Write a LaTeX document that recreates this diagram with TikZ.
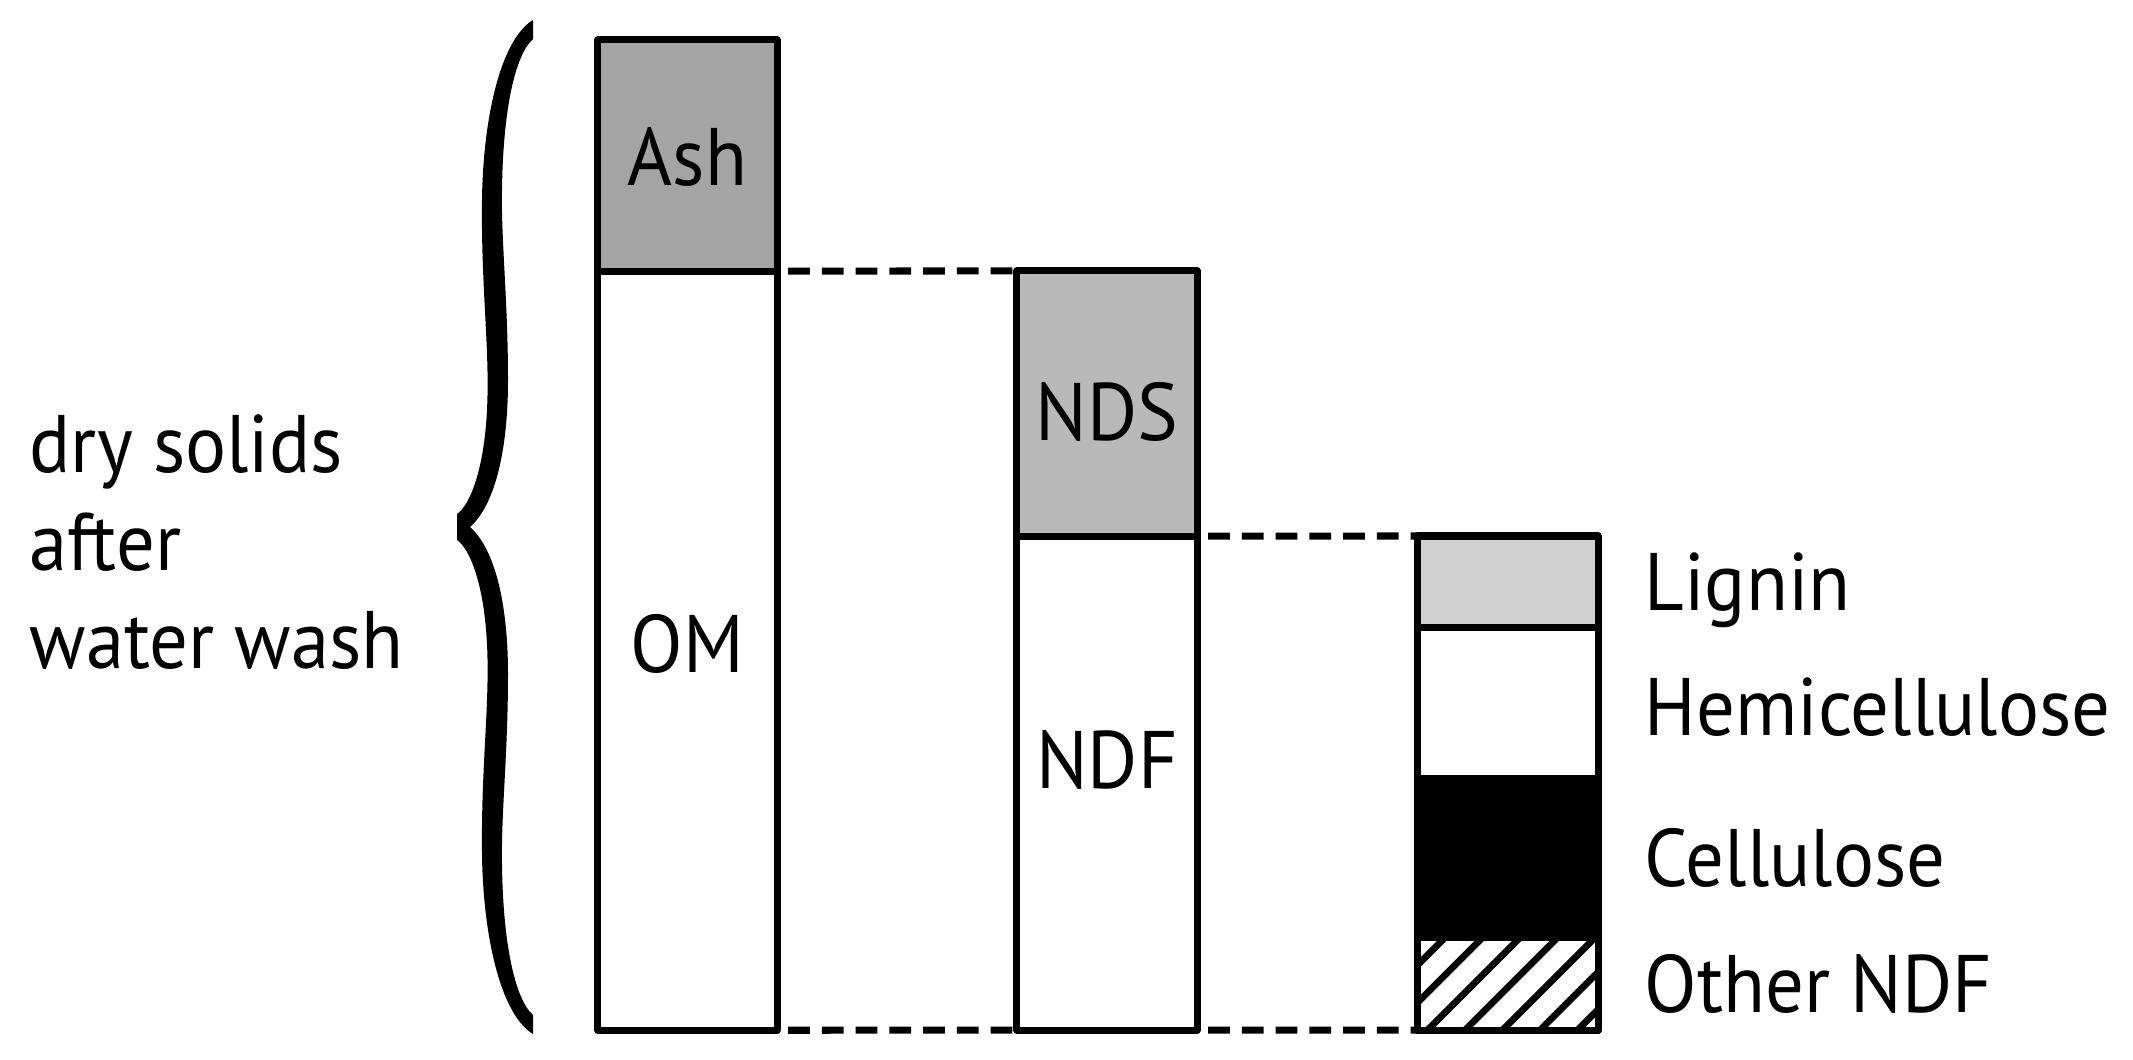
\documentclass[tikz,border=0pt]{standalone}
\usepackage{fontspec}
\setmainfont[FakeStretch=0.94]{PT Sans}
\definecolor{ashgray}{HTML}{A4A4A4}
\definecolor{ndsgray}{HTML}{B9B9B9}
\definecolor{liggray}{HTML}{D1D1D1}
\begin{document}
\begin{tikzpicture}[x=0.01cm,y=-0.01cm,
  seg/.style={draw=black, line width=2pt, line join=round, inner sep=0pt, outer sep=0pt, minimum width=1.8cm},
  lbl/.style={inner sep=0pt, font=\fontsize{23.2pt}{28pt}\selectfont},
  conn/.style={line width=2pt, dash pattern=on 6.2pt off 3.4pt, shorten <=0.11cm}]
\useasboundingbox (0,0) rectangle (2133,1059);

% bar 1
\node[seg, fill=white, minimum width=1.79cm, minimum height=7.59cm] (om) at (687.5,650.5) {};
\node[seg, fill=ashgray, minimum width=1.79cm, minimum height=2.31cm] (ash) at (687.5,155.5) {};
% bar 2
\node[seg, fill=white, minimum height=4.94cm] (ndf) at (1107,783) {};
\node[seg, fill=ndsgray, minimum height=2.65cm] (nds) at (1107,403.5) {};
% bar 3
\node[seg, fill=liggray, minimum height=0.92cm] (lig) at (1508,582) {};
\node[seg, fill=white, minimum height=1.51cm] (hem) at (1508,703.5) {};
\node[seg, fill=black, minimum height=1.58cm] (cel) at (1508,858) {};
\node[seg, fill=white, minimum height=0.93cm] (oth) at (1508,983.5) {};
\begin{scope}
  \clip (oth.south west) rectangle (oth.north east);
  \foreach \c in {1267.5,1305,...,1610}
    \draw[line width=1.9pt] (\c,1040) -- (\c+120,920);
\end{scope}
\node[seg, minimum height=0.93cm] (othb) at (1508,983.5) {};

% labels in bars
\node[lbl, anchor=base] (ashL) at (687.5,185) {Ash};
\node[lbl, anchor=base] (omL) at (687.5,672) {OM};
\node[lbl, anchor=base] (ndsL) at (1107,440) {NDS};
\node[lbl, anchor=base] (ndfL) at (1107,788) {NDF};

% legend labels
\node[lbl, anchor=base west] (ligL) at (1644,610) {Lignin};
\node[lbl, anchor=base west] (hemL) at (1644,735) {Hemicellulose};
\node[lbl, anchor=base west] (celL) at (1644,886) {Cellulose};
\node[lbl, anchor=base west] (othL) at (1644,1012) {Other NDF};

% left text
\node[lbl, anchor=base west] (t1) at (29,472) {dry solids};
\node[lbl, anchor=base west] (t2) at (29,570) {after};
\node[lbl, anchor=base west] (t3) at (29,668) {water wash};

% dashed connectors
\draw[conn] (ash.south east) -- (nds.north west);
\draw[conn] (om.south east) -- (ndf.south west);
\draw[conn] (nds.south east) -- (lig.north west);
\draw[conn] (ndf.south east) -- (oth.south west);

% brace
\fill (533,20) .. controls (500,40) and (483,120) .. (482,200)
  .. controls (481,290) and (490,350) .. (487,410)
  .. controls (484,470) and (470,505) .. (457,514)
  -- (457,540)
  .. controls (470,549) and (484,584) .. (487,644)
  .. controls (490,704) and (481,764) .. (482,854)
  .. controls (483,934) and (500,1014) .. (533,1034)
  -- (533,1015)
  .. controls (515,999) and (503,944) .. (502,864)
  .. controls (501,814) and (508,754) .. (508,674)
  .. controls (508,604) and (495,549) .. (470,527)
  .. controls (495,505) and (508,450) .. (508,380)
  .. controls (508,300) and (501,240) .. (502,190)
  .. controls (503,110) and (515,55) .. (533,39)
  -- cycle;
\end{tikzpicture}
\end{document}
